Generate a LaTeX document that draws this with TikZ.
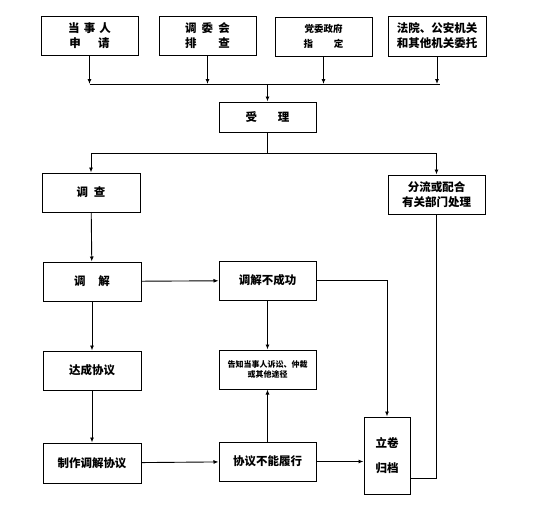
\documentclass[tikz,border=0pt]{standalone}
\usepackage{fontspec}
\setmainfont{Noto Sans CJK SC}
\usepackage{tikz}
\usetikzlibrary{arrows.meta,positioning,calc}

\begin{document}
\begin{tikzpicture}[
  x=1pt, y=-1pt,
  box/.style={rectangle, draw, line width=1pt, minimum width=97pt, minimum height=39pt, inner sep=0pt, align=center, font=\fontsize{11.5}{15}\selectfont\bfseries},
  arrow/.style={-{Latex[length=5pt,width=4pt]}, line width=0.9pt},
  link/.style={line width=0.9pt}
]
\useasboundingbox (0,0) rectangle (555,509);

% Sources
\node[box] (party) at (89.5,35.5) {当\hspace{0.35em}事\hspace{0.35em}人\\申\hspace{1.5em}请};
\node[box] (board) at (207.5,36) {调\hspace{0.45em}委\hspace{0.45em}会\\排\hspace{1.9em}查};
\node[box, font=\fontsize{9.5}{15}\selectfont\bfseries] (govt) at (323.5,36.5) {党委政府\\指\hspace{2.2em}定};
\node[box, minimum width=98pt, minimum height=40pt] (court) at (437,36) {法院、公安机关\\和其他机关委托};

% Intake
\coordinate (bus) at (267.5,84);
\node[box, minimum height=30pt] (accept) at (267.5,117) {受\hspace{1.8em}理};
\coordinate (split) at (267.5,153);

% Left column
\node[box, minimum width=98pt] (survey) at (91,192.5) {调\hspace{0.5em}查};
\node[box, minimum width=98pt] (mediate) at (92,281.5) {调\hspace{1.1em}解};
\node[box, minimum width=98pt] (agree) at (92,370.5) {达成协议};
\node[box, minimum width=98pt, minimum height=40pt] (draft) at (92,463) {制作调解协议};

% Middle column
\node[box] (fail) at (267.5,280.5) {调解不成功};
\node[box, font=\fontsize{8}{10}\selectfont\bfseries] (inform) at (267.5,369.5) {告知当事人诉讼、仲裁\\或其他途径};
\node[box] (breach) at (267.5,461.5) {协议不能履行};

% Right column
\node[box] (transfer) at (436.5,194.5) {分流或配合\\有关部门处理};
\node[box, minimum width=46pt, minimum height=77pt] (archive) at (387,455.5) {立卷\\[10pt]归档};

% Connectors
\foreach \src in {party,board,govt,court}
  \draw[arrow] (\src.south) -- (\src.south |- bus);
\draw[link] (party.south |- bus) -- ($(court.south |- bus)+(3,0)$);
\draw[arrow] (bus) -- (accept.north);
\draw[link] (accept.south) -- (split);
\draw[arrow] (split) -| (survey.north);
\draw[arrow] (split) -| (transfer.north);

\draw[arrow] (survey) -- (mediate);
\draw[arrow] (mediate) -- (fail);
\draw[arrow] (mediate) -- (agree);
\draw[arrow] (agree) -- (draft);
\draw[arrow] (draft) -- (breach);
\draw[arrow] (fail) -- (inform);
\draw[arrow] (breach) -- (inform);
\draw[arrow] (breach) -- (archive.west |- breach);
\draw[arrow] (fail.east) -| (archive.north);
\draw[link] (transfer.south) |- ($(archive.east)+(0,22.5)$);

\end{tikzpicture}
\end{document}
